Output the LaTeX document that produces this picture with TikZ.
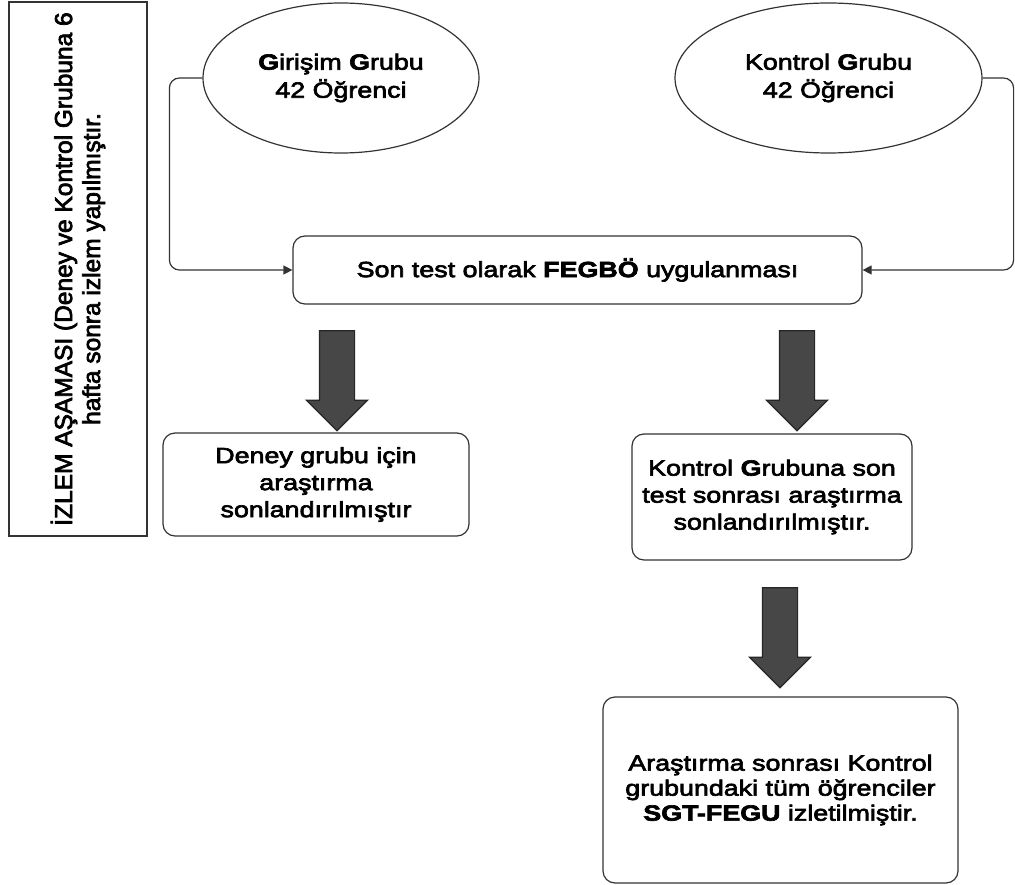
\documentclass[tikz,border=0pt]{standalone}
\usepackage{fontspec}
\setmainfont{Liberation Sans}[FakeStretch=1.22,FakeBold=3]
\newfontfamily\sidefont{Liberation Sans}[FakeBold=3]
\usetikzlibrary{shapes.geometric,shapes.arrows,arrows.meta}

\begin{document}
\begin{tikzpicture}[x=1pt,y=-1pt,line width=1.2pt,
        grp/.style={draw=black!80,ellipse,inner sep=0pt,minimum height=150pt,align=center,font=\fontsize{22}{28}\selectfont},
        box/.style={draw=black!80,rounded corners=12pt,inner sep=0pt,align=center,font=\fontsize{22}{27}\selectfont},
        link/.style={draw=black!80,rounded corners=10pt,-{Triangle[length=9pt,width=9pt]}},
        fat/.style={single arrow,draw=black!85,fill=black!72,shape border rotate=270,inner sep=17pt,
            single arrow head extend=13pt,minimum height=100pt}]
        \useasboundingbox (0,0) rectangle (1015,885);
        \node[draw=black!80,rotate=90,minimum width=534pt,minimum height=138pt,inner sep=0pt,align=center,
            font=\sidefont\fontsize{24.5}{28}\selectfont] (izlem) at (78,269)
            {İZLEM AŞAMASI (Deney ve Kontrol Grubuna 6\\hafta sonra izlem yapılmıştır.};
        \node[grp,minimum width=276pt] (girisim) at (341,78) {\textbf{G}irişim \textbf{G}rubu\\42 Öğrenci};
        \node[grp,minimum width=307pt] (kontrol) at (828.5,78) {Kontrol \textbf{G}rubu\\42 Öğrenci};
        \node[box,minimum width=569pt,minimum height=68pt] (sontest) at (577.5,270) {Son test olarak \textbf{FEGBÖ} uygulanması};
        \node[box,minimum width=306pt,minimum height=103pt] (deney) at (316,484.5) {Deney grubu için\\araştırma\\sonlandırılmıştır};
        \node[box,minimum width=280pt,minimum height=126pt] (kbitis) at (772,497) {Kontrol \textbf{G}rubuna son\\test sonrası araştırma\\sonlandırılmıştır.};
        \node[box,minimum width=355pt,minimum height=186pt,font=\fontsize{22}{25}\selectfont] (izletim) at (780.5,790)
            {Araştırma sonrası Kontrol\\grubundaki tüm öğrenciler\\\textbf{SGT-FEGU} izletilmiştir.};
        \node[fat] (ok1) at (337,372) {};
        \node[fat] (ok2) at (797,372) {};
        \node[fat] (ok3) at (780,629) {};
        \draw[link] (girisim.west) -- ++(-33,0) |- (sontest.west);
        \draw[link] (kontrol.east) -- ++(31,0) |- (sontest.east);
    \end{tikzpicture}
\end{document}
